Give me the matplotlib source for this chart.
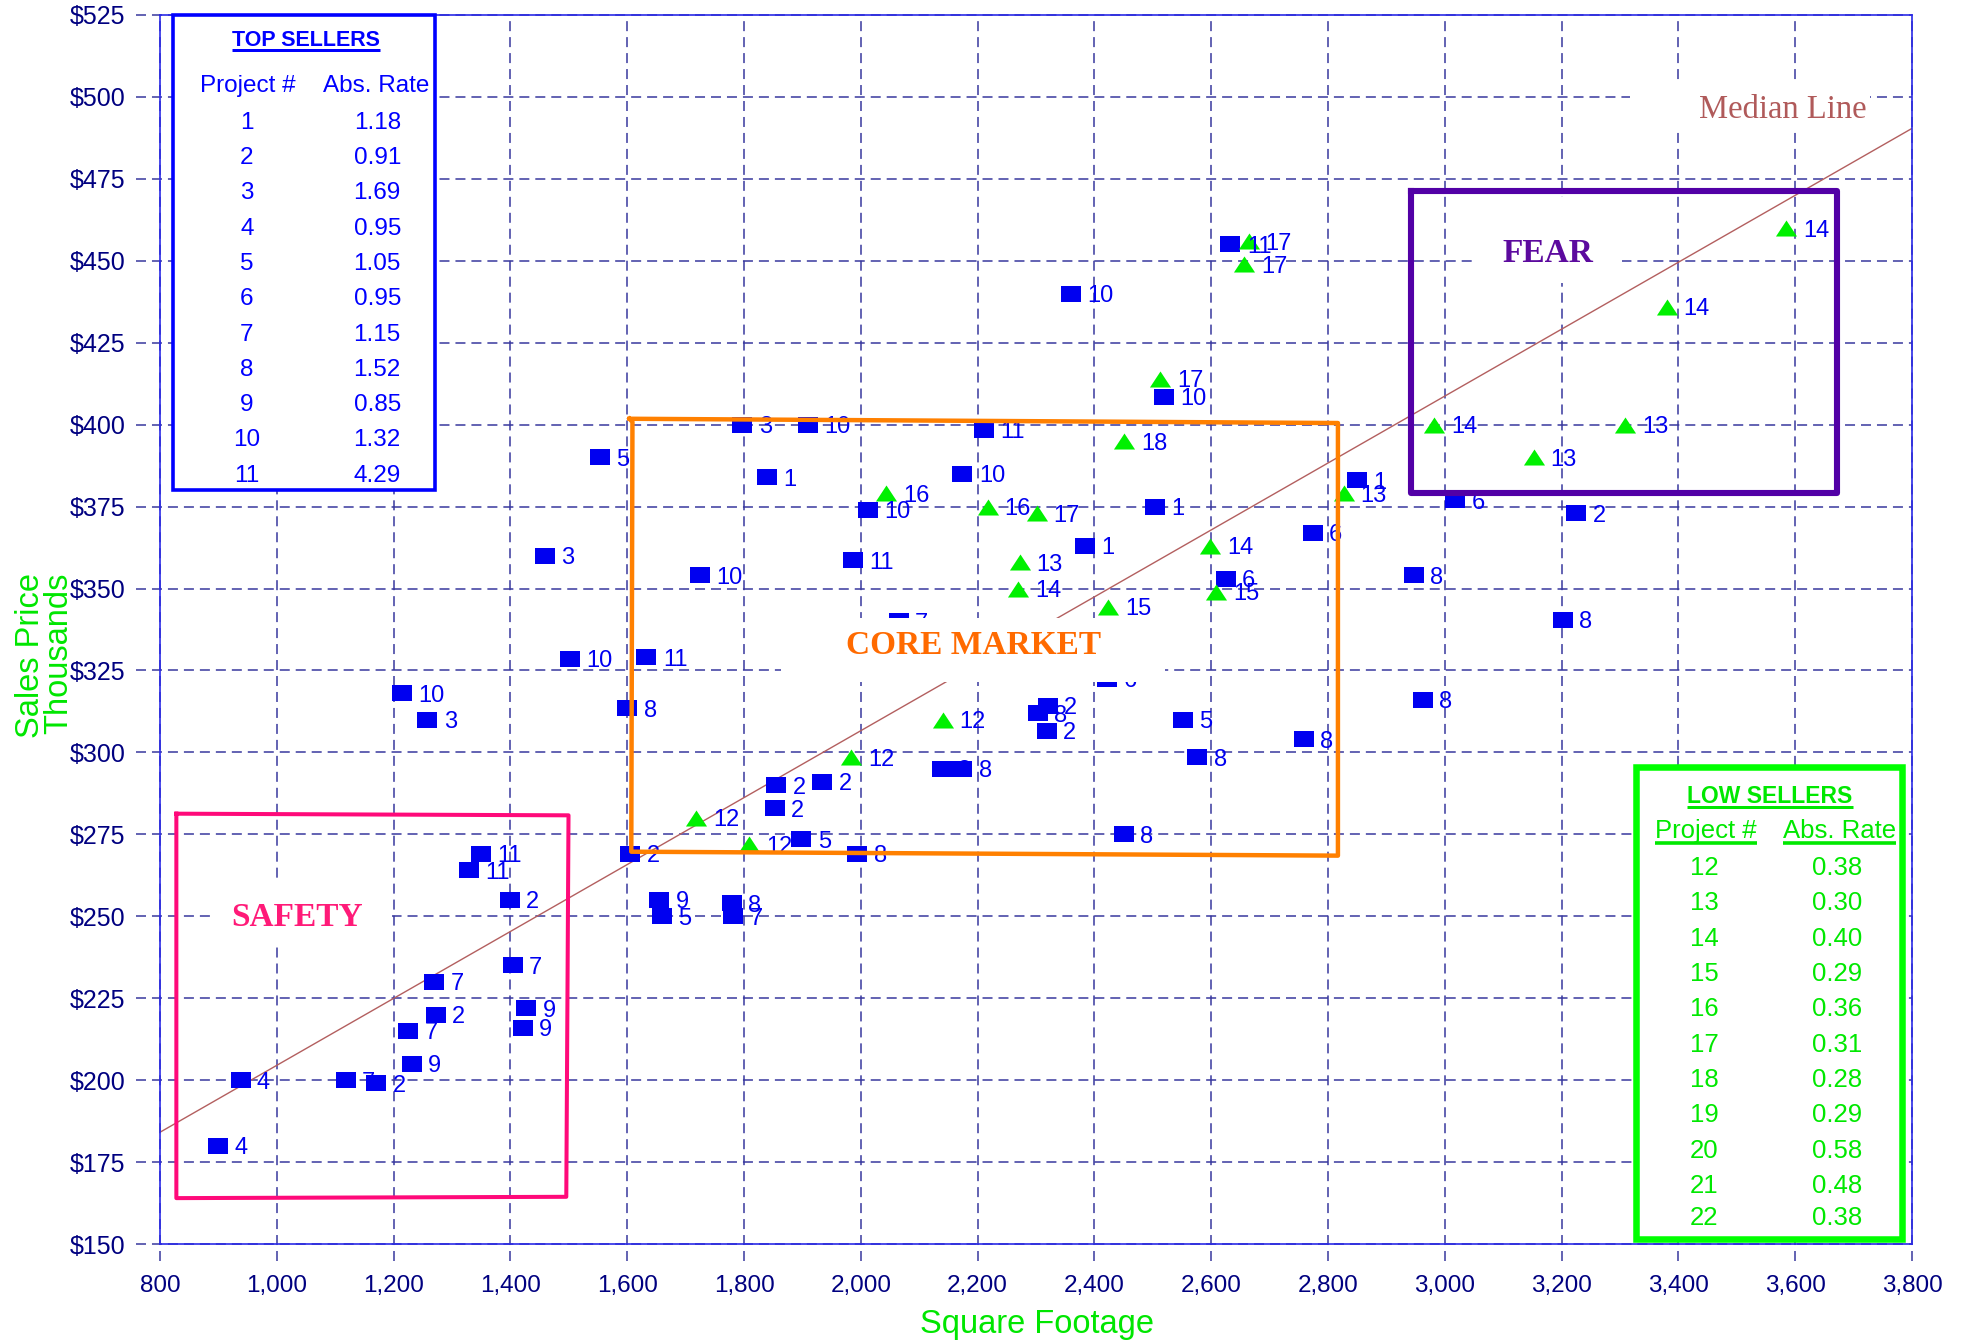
import matplotlib
matplotlib.use("Agg")
import matplotlib.pyplot as plt
from matplotlib.path import Path
from matplotlib.patches import Rectangle
from matplotlib.lines import Line2D
from matplotlib.transforms import IdentityTransform
from matplotlib import font_manager

# ---------------- data ----------------
# Top sellers (blue squares)
sq_x = [900, 938, 1118, 1170, 1231, 1225, 1272, 1270, 1404, 1427, 1421, 1399, 1349, 1329,
        1605, 1655, 1659, 1779, 1781,
        1553, 1797, 1910, 2211, 1839, 2174, 2012, 1459, 1987, 1725, 2384, 2503,
        1502, 1633, 1215, 1258, 1600,
        2360, 2519, 2633, 2774, 2625, 2552, 2576, 2759, 2450, 1994, 1898, 1853, 1855, 1934,
        2139, 2174, 2303, 2320, 2318,
        2850, 3018, 3225, 2947, 3202, 2962,
        2065, 2422]
sq_y = [180, 200, 200, 199, 205, 215, 220, 230, 235, 222, 216, 255, 269, 264,
        269, 255, 250, 254, 250,
        390, 400, 400, 398.5, 384, 385, 374, 360, 358.6, 354, 363, 375,
        328.5, 329, 318, 310, 313.5,
        440, 408.5, 455, 367, 353, 310, 298.5, 304, 275, 269, 273.5, 283, 290, 291,
        295, 295, 312, 314.3, 306.6,
        383, 377, 373, 354, 340.5, 316,
        340, 322.5]
sq_lbl = ['4', '4', '7', '2', '9', '7', '2', '7', '7', '9', '9', '2', '11', '11',
          '2', '9', '5', '8', '7',
          '5', '3', '10', '11', '1', '10', '10', '3', '11', '10', '1', '1',
          '10', '11', '10', '3', '8',
          '10', '10', '11', '6', '6', '5', '8', '8', '8', '8', '5', '2', '2', '2',
          '8', '8', '8', '2', '2',
          '1', '6', '2', '8', '8', '8',
          '7', '6']

# Low sellers (green triangles)
tri_x = [2664, 2657, 2512, 2451, 2043, 2217, 2301, 2272, 2270, 2598, 2608, 2423,
         2140, 1984, 1718, 1809, 2827, 2982, 3152, 3309, 3380, 3585]
tri_y = [456, 449, 414, 395, 379, 375, 373, 358, 350, 363, 349, 344.5,
         310, 298.5, 280, 272, 379, 400, 390, 400, 436, 460]
tri_lbl = ['17', '17', '17', '18', '16', '16', '17', '13', '14', '14', '15', '15',
           '12', '12', '12', '12', '13', '14', '13', '13', '14', '14']

median_x = [800, 3800]
median_y = [184.1, 490.4]

x_ticks = list(range(800, 3801, 200))
y_ticks = list(range(150, 526, 25))

top_proj = ['1', '2', '3', '4', '5', '6', '7', '8', '9', '10', '11']
top_rate = ['1.18', '0.91', '1.69', '0.95', '1.05', '0.95', '1.15', '1.52', '0.85', '1.32', '4.29']
low_proj = ['12', '13', '14', '15', '16', '17', '18', '19', '20', '21', '22']
low_rate = ['0.38', '0.30', '0.40', '0.29', '0.36', '0.31', '0.28', '0.29', '0.58', '0.48', '0.38']

# ---------------- style ----------------
plt.rcParams['font.family'] = ['Liberation Sans', 'DejaVu Sans']
plt.rcParams['lines.scale_dashes'] = False
names = {f.name for f in font_manager.fontManager.ttflist}
NARROW = 'Liberation Sans Narrow' if 'Liberation Sans Narrow' in names else None

W, H = 1961, 1341
fig = plt.figure(figsize=(W / 100, H / 100), dpi=100)
fig.patch.set_facecolor('white')
L, R, T, B = 160, 1912, 15, 1244
ax = fig.add_axes([L / W, 1 - B / H, (R - L) / W, (B - T) / H])
ax.set_xlim(800, 3800)
ax.set_ylim(150, 525)

grid_c = '#38389e'
dash = (0, (7.2, 4.3))
for v in x_ticks:
    ax.plot([v, v], [-17 / (B - T), 1], transform=ax.get_xaxis_transform(),
            color=grid_c, lw=1.1, ls=dash, clip_on=False, zorder=1)
for v in y_ticks:
    ax.plot([-24 / (R - L), 1], [v, v], transform=ax.get_yaxis_transform(),
            color=grid_c, lw=1.1, ls=dash, clip_on=False, zorder=1)

for s in ax.spines.values():
    s.set_color('#2a2ae6')
    s.set_linewidth(1.2)
    s.set_zorder(2.5)

ax.set_xticks(x_ticks)
ax.set_xticklabels([f'{v:,}' for v in x_ticks])
ax.set_yticks(y_ticks)
ax.set_yticklabels([f'${v}' for v in y_ticks])
ax.tick_params(axis='x', length=0, pad=22, labelsize=17.5, labelcolor='#000080')
ax.tick_params(axis='y', length=0, pad=25, labelsize=18, labelcolor='#000080')

# median line
ax.plot(median_x, median_y, color='#b35f5f', lw=1.0, zorder=2)

# markers
rect_m = Path([(-1, -0.76), (1, -0.76), (1, 0.76), (-1, 0.76), (-1, -0.76)],
              [Path.MOVETO, Path.LINETO, Path.LINETO, Path.LINETO, Path.CLOSEPOLY])
tri_m = Path([(-1, -0.76), (1, -0.76), (0, 0.76), (-1, -0.76)],
             [Path.MOVETO, Path.LINETO, Path.LINETO, Path.CLOSEPOLY])
ax.scatter(sq_x, sq_y, marker=rect_m, s=14.8 ** 2, c='#0000f0', linewidths=0, zorder=3)
ax.scatter(tri_x, tri_y, marker=tri_m, s=15.2 ** 2, c='#00f000', linewidths=0, zorder=3)
for x, y, t in zip(sq_x, sq_y, sq_lbl):
    ax.annotate(t, (x, y), xytext=(11.8, 0), textcoords='offset points', ha='left',
                va='center_baseline', fontsize=17, color='#0000f0', zorder=3.5)
for x, y, t in zip(tri_x, tri_y, tri_lbl):
    ax.annotate(t, (x, y), xytext=(12.2, 0), textcoords='offset points', ha='left',
                va='center_baseline', fontsize=17, color='#0000f0', zorder=3.5)

# region boxes
ax.plot([828, 1499.5, 1495.7, 828, 828], [281.3, 280.8, 164.4, 164, 281.3],
        color='#ff0a7a', lw=2.9, zorder=4, clip_on=False)
ax.plot([1604, 2817, 2817, 1607, 1609, 1604], [401.8, 400.5, 268.5, 269.7, 400.8, 401.8],
        color='#ff8000', lw=3.2, zorder=4)
ax.plot([2942, 3671, 3671, 2942, 2942], [471.2, 471.2, 379, 379, 471.2],
        color='#5200a6', lw=4.4, zorder=4.6)


def region_label(x, y, s, color, fs, weight='bold', rect=None):
    if rect is not None:
        ax.add_patch(Rectangle((rect[0], rect[1]), rect[2], rect[3], facecolor='white',
                               edgecolor='none', zorder=4.5))
    ax.annotate(s, (x, y), xytext=(0, -0.331 * fs), textcoords='offset points',
                ha='center', va='baseline', fontsize=fs, fontweight=weight,
                color=color, family=['Liberation Serif', 'DejaVu Serif'], zorder=5)


region_label(2193, 333.3, 'CORE MARKET', '#ff6a00', 24, rect=(1864, 321.5, 657, 19.5))
region_label(3177, 453.1, 'FEAR', '#5c0a9e', 24, rect=(3047, 443.3, 256, 26.2))
region_label(1034, 250.5, 'SAFETY', '#ff1a78', 24, rect=(888, 240.5, 310, 19.5))
region_label(3579, 497.0, 'Median Line', '#b05a5a', 23.5, weight='normal',
             rect=(3317, 489.4, 411, 15.8))


# ---------------- tables (figure pixel coordinates) ----------------
def ftext(x, yc, s, fs, color, family=None, weight='normal', baseline=None):
    cap = 0.716 * fs * 100 / 72
    yb = baseline if baseline is not None else yc + cap / 2
    kw = {}
    if family:
        kw['family'] = family
    return fig.text(x / W, 1 - yb / H, s, ha='center', va='baseline', fontsize=fs,
                    color=color, fontweight=weight, zorder=3, **kw)


def fbox(x0, y0, x1, y1, color, lw):
    fig.add_artist(Rectangle((x0 / W, 1 - y1 / H), (x1 - x0) / W, (y1 - y0) / H,
                             transform=fig.transFigure, facecolor='white',
                             edgecolor=color, lw=lw, zorder=1))


blue = '#0000ff'
fbox(173.2, 15, 435.3, 490, blue, 2.6)
if NARROW:
    tfam, tfs, ths = [NARROW, 'Liberation Sans'], 20.5, 18
else:
    tfam, tfs, ths = ['Liberation Sans'], 17.5, 15.5
underlines = []
t = ftext(305.8, None, 'TOP SELLERS', ths, blue, tfam, 'bold', baseline=46)
underlines.append((t, 49.5, 3.0, blue))
ftext(247.8, 83.3, 'Project #', tfs, blue, tfam)
ftext(376.3, 83.3, 'Abs. Rate', tfs, blue, tfam)
for i, (p, r) in enumerate(zip(top_proj, top_rate)):
    yc = 120 + i * 35.3
    ftext(246.9, yc, p, tfs, blue, tfam)
    ftext(377.2, yc, r, tfs, blue, tfam)

green = '#00e800'
fbox(1636, 766.5, 1901.7, 1239, '#00ff00', 4.7)
t = ftext(1770, None, 'LOW SELLERS', 16.5, green, None, 'bold', baseline=803.3)
underlines.append((t, 806.8, 3.0, green))
t = ftext(1705.7, None, 'Project #', 18.5, green, baseline=838.3)
underlines.append((t, 843.0, 3.6, green))
t = ftext(1839.3, None, 'Abs. Rate', 18.5, green, baseline=838.3)
underlines.append((t, 843.0, 3.6, green))
low_rows = [866 + i * 35.3 for i in range(10)] + [1216]
for yc, p, r in zip(low_rows, low_proj, low_rate):
    ftext(1704, yc, p, 18.5, green)
    ftext(1837.3, yc, r, 18.5, green)

# axis titles
fig.text(1037 / W, 1 - 1325 / H, 'Square Footage', ha='center', va='center',
         fontsize=23.5, color='#00e600')
fig.text(31 / W, 1 - 656 / H, 'Sales Price', ha='center', va='center', rotation=90,
         fontsize=23.5, color='#00e600')
fig.text(59 / W, 1 - 653 / H, 'Thousands', ha='center', va='center', rotation=90,
         fontsize=23.5, color='#00e600')

# underlines
fig.canvas.draw()
rend = fig.canvas.get_renderer()
for txt, ypx, thick, col in underlines:
    bb = txt.get_window_extent(rend)
    fig.add_artist(Line2D([bb.x0, bb.x1], [H - ypx, H - ypx], transform=IdentityTransform(),
                          color=col, lw=thick * 72 / 100, solid_capstyle='butt', zorder=3))

fig.savefig('out.png', dpi=100, facecolor='white')
